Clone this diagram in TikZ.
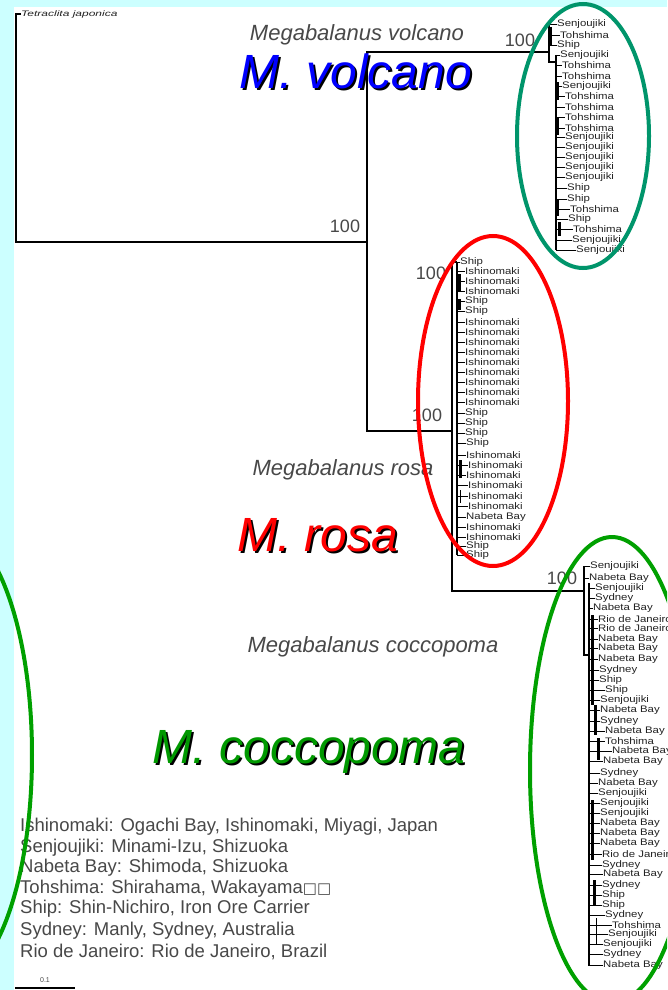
\documentclass[tikz,border=0pt]{standalone}
\usepackage{fontspec}
\setmainfont{Liberation Sans}
\newfontfamily\symfont{DejaVu Sans}
\usepackage{graphicx}
\definecolor{bgcyan}{HTML}{CCFFFF}
\definecolor{labgray}{HTML}{484848}
\definecolor{tipgray}{HTML}{222222}
\definecolor{tealring}{HTML}{00956B}
\definecolor{greenring}{HTML}{00A000}
\definecolor{cocgreen}{HTML}{009900}
\tikzset{
  branch/.style={draw=black, line width=1.4pt},
  twig/.style={draw=black, line width=0.9pt},
  dense/.style={draw=black, line width=3pt},
  tip/.style={anchor=west, inner sep=0pt, text=tipgray, font=\fontsize{9.5}{9.5}\selectfont},
  boot/.style={inner sep=0pt, text=labgray, font=\fontsize{18}{18}\selectfont},
  species/.style={inner sep=0pt, text=labgray, font=\fontsize{22}{22}\selectfont\itshape},
  big/.style={inner sep=0pt, font=\fontsize{48}{48}\selectfont\itshape},
  legend/.style={anchor=west, inner sep=0pt, text=labgray, font=\fontsize{18.5}{18.5}\selectfont},
  ring/.style={line width=4pt}
}
\begin{document}
\begin{tikzpicture}[x=1pt,y=-1pt]
\useasboundingbox (0,0) rectangle (667,990);
\begin{scope}
\clip (0,0) rectangle (667,990);
\fill[bgcyan] (0,0) rectangle (667,990);
\fill[white] (14,7) rectangle (667,990);

% ---------- tree skeleton ----------
\node[tip, font=\fontsize{8}{8}\selectfont\itshape] (tj) at (21,14) {\scalebox{1.5}[1]{Tetraclita japonica}};
\coordinate (r0) at (16,242);
\coordinate (n1) at (367,242);
\coordinate (vN) at (549,52);
\coordinate (rcN) at (452,431);
\coordinate (rN) at (457,262);
\coordinate (cN) at (584,591);
\draw[branch] (tj.west) -| (r0) -- (n1);
\draw[branch] (vN) -| (n1);
\draw[branch] (rcN) -| (n1);
\draw[branch] (rN) -| (rcN);
\draw[branch] (cN) -| (rcN);

% volcano spines
\coordinate (vA) at (549,24);
\coordinate (vB) at (549,62);
\coordinate (vC) at (556,62);
\coordinate (vD) at (556,250);
\draw[branch] (vA) -- (vB) -- (vC);
\draw[branch] (556,55) -- (vD);
\draw[dense] (550,27) -- (550,46);
\draw[dense] (557,82) -- (557,100);
\draw[dense] (557,118) -- (557,135);
\draw[dense] (557,200) -- (557,216);
\draw[dense] (559,222) -- (559,236);

% rosa spines
\coordinate (rB) at (457,555);
\draw[branch] (rN) -- (rB);
\draw[dense] (459,274) -- (459,292);
\draw[dense] (459,299) -- (459,310);
\draw[dense] (460,460) -- (460,478);
\draw[twig] (460,490) -- (460,503);

% coccopoma spines
\coordinate (cA) at (584,566);
\coordinate (cB) at (584,655);
\coordinate (cC) at (589,583);
\coordinate (cD) at (589,966);
\draw[branch] (cA) -- (cB) -- (589,655);
\draw[branch] (cC) -- (cD);
\draw[dense] (592,615) -- (592,705);
\draw[dense] (595,705) -- (595,735);
\draw[dense] (598,738) -- (598,760);
\draw[dense] (592,800) -- (592,860);
\draw[dense] (594,880) -- (594,905);
\draw[twig] (596,918) -- (596,945);

% ---------- tips ----------
\foreach[count=\i] \yy/\lab/\xx/\sx in {
 24/Senjoujiki/557/549, 35/Tohshima/560/549, 45/Ship/557/549, 55/Senjoujiki/560/556,
 65/Tohshima/562/556, 76/Tohshima/562/556, 86/Senjoujiki/562/556, 96/Tohshima/565/556,
 107/Tohshima/565/556, 117/Tohshima/565/556, 128/Tohshima/565/556, 137/Senjoujiki/565/556,
 147/Senjoujiki/565/556, 157/Senjoujiki/565/556, 167/Senjoujiki/565/556, 177/Senjoujiki/565/556,
 188/Ship/567/556, 199/Ship/567/556, 209/Tohshima/570/556, 219/Ship/568/556,
 229/Tohshima/573/556, 240/Senjoujiki/572/556, 250/Senjoujiki/576/556}
{
 \node[tip] (vt\i) at (\xx,\yy) {\scalebox{1.2}[1]{\lab}};
 \draw[twig] (\sx,\yy) -- (vt\i.west);
}

\foreach[count=\i] \yy/\lab/\xx in {
 262/Ship/460, 271/Ishinomaki/465, 281/Ishinomaki/465, 291/Ishinomaki/465,
 301/Ship/465, 311/Ship/465, 322/Ishinomaki/465, 332/Ishinomaki/465,
 342/Ishinomaki/465, 352/Ishinomaki/465, 362/Ishinomaki/465, 372/Ishinomaki/465,
 382/Ishinomaki/465, 392/Ishinomaki/465, 402/Ishinomaki/465, 413/Ship/465,
 423/Ship/465, 433/Ship/465, 443/Ship/466, 455/Ishinomaki/466,
 465/Ishinomaki/468, 475/Ishinomaki/466, 485/Ishinomaki/468, 496/Ishinomaki/468,
 506/Ishinomaki/468, 517/Nabeta Bay/466, 527/Ishinomaki/466, 537/Ishinomaki/466,
 546/Ship/466, 555/Ship/466}
{
 \node[tip] (rt\i) at (\xx,\yy) {\scalebox{1.2}[1]{\lab}};
 \draw[twig] (457,\yy) -- (rt\i.west);
}

\foreach[count=\i] \yy/\lab/\xx/\sx in {
 566/Senjoujiki/590/584, 578/Nabeta Bay/589/584, 588/Senjoujiki/595/589, 598/Sydney/595/589,
 608/Nabeta Bay/593/589, 619/Rio de Janeiro/598/589, 628/Rio de Janeiro/598/589, 639/Nabeta Bay/598/589,
 648/Nabeta Bay/598/589, 659/Nabeta Bay/598/589, 670/Sydney/599/589, 680/Ship/599/589,
 690/Ship/605/589, 700/Senjoujiki/600/589, 710/Nabeta Bay/600/589, 721/Sydney/600/589,
 731/Nabeta Bay/605/589, 741/Tohshima/605/589, 751/Nabeta Bay/612/589, 761/Nabeta Bay/603/589,
 773/Sydney/600/589, 783/Nabeta Bay/598/589, 793/Senjoujiki/598/589, 803/Senjoujiki/600/589,
 813/Senjoujiki/600/589, 823/Nabeta Bay/600/589, 833/Nabeta Bay/600/589, 843/Nabeta Bay/600/589,
 854/Rio de Janeiro/602/589, 865/Sydney/602/589, 874/Nabeta Bay/603/589, 885/Sydney/602/589,
 895/Ship/602/589, 905/Ship/602/589, 915/Sydney/605/589, 925/Tohshima/612/589,
 934/Senjoujiki/608/589, 944/Senjoujiki/603/589, 954/Sydney/603/589, 965/Nabeta Bay/603/589}
{
 \node[tip] (ct\i) at (\xx,\yy) {\scalebox{1.2}[1]{\lab}};
 \draw[twig] (\sx,\yy) -- (ct\i.west);
}

% ---------- bootstrap values ----------
\node[boot] (b1) at (345,226) {100};
\node[boot] (b2) at (520,40) {100};
\node[boot] (b3) at (431,273) {100};
\node[boot] (b4) at (427,415) {100};
\node[boot] (b5) at (562,578) {100};

% ---------- species names ----------
\node[species] (sv) at (357,35) {Megabalanus volcano};
\node[species] (sr) at (343,470) {Megabalanus rosa};
\node[species] (sc) at (373,647) {Megabalanus coccopoma};

\node[big, text=black] (bvs) at (358,73) {M.~volcano};
\node[big, text=blue] (bv) at (356,71) {M.~volcano};
\node[big, text=black] (brs) at (320,537) {M.~rosa};
\node[big, text=red] (br) at (318,535) {M.~rosa};
\node[big, text=black] (bcs) at (311,754) {M.~coccopoma};
\node[big, text=cocgreen] (bc) at (309,752) {M.~coccopoma};

% ---------- legend ----------
\node[legend] (l1) at (20,827) {Ishinomaki: Ogachi Bay, Ishinomaki, Miyagi, Japan};
\node[legend] (l2) at (20,848) {Senjoujiki: Minami-Izu, Shizuoka};
\node[legend] (l3) at (20,868) {Nabeta Bay: Shimoda, Shizuoka};
\node[legend] (l4) at (20,889) {Tohshima: Shirahama, Wakayama{\symfont\fontsize{15}{15}\selectfont □□}};
\node[legend] (l5) at (20,909) {Ship: Shin-Nichiro, Iron Ore Carrier};
\node[legend] (l6) at (20,931) {Sydney: Manly, Sydney, Australia};
\node[legend] (l7) at (20,952) {Rio de Janeiro: Rio de Janeiro, Brazil};

% scale bar
\coordinate (s0) at (15,988);
\coordinate (s1) at (75,988);
\draw[branch] (s0) -- (s1);
\node[inner sep=0pt, text=labgray, font=\fontsize{7}{7}\selectfont] (sbl) at (45,980) {0.1};

% ---------- rings ----------
\draw[ring, tealring] (583,136) ellipse [x radius=66, y radius=132];
\draw[ring, red] (493,401) ellipse [x radius=75, y radius=165];
\draw[ring, greenring] (612,770) ellipse [x radius=82, y radius=233];
\draw[ring, greenring] (-50,755) ellipse [x radius=82, y radius=227];
\end{scope}
\end{tikzpicture}
\end{document}
